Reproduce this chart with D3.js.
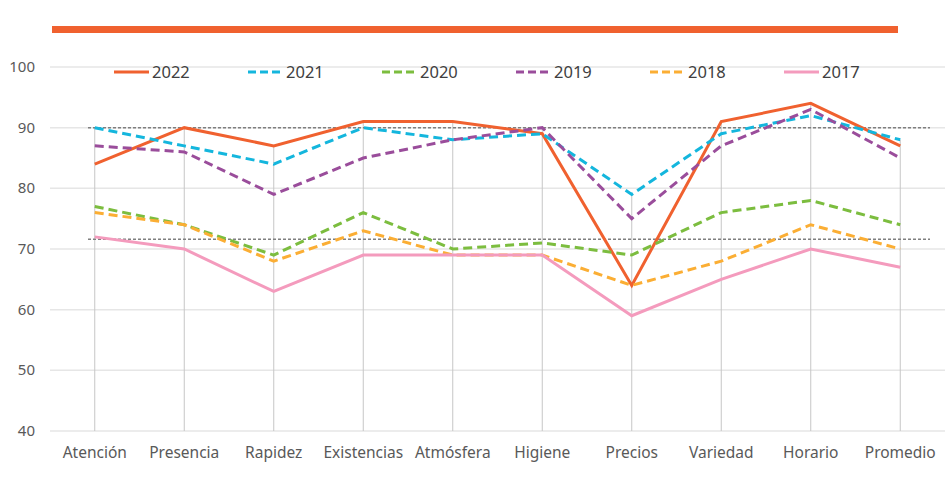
<!DOCTYPE html>
<html>
<head>
<meta charset="utf-8">
<script src="https://cdn.jsdelivr.net/npm/d3@7"></script>
<style>
  body { margin: 0; background: #fff; }
  text { font-family: "Noto Sans", "DejaVu Sans", sans-serif; fill: #595959; }
</style>
</head>
<body>
<div id="chart"></div>
<script>
// categories and series
const categories = ["Atención", "Presencia", "Rapidez", "Existencias", "Atmósfera", "Higiene", "Precios", "Variedad", "Horario", "Promedio"];
const years = ["2022", "2021", "2020", "2019", "2018", "2017"];
const v2022 = [84, 90, 87, 91, 91, 89, 64, 91, 94, 87];
const v2021 = [90, 87, 84, 90, 88, 89, 79, 89, 92, 88];
const v2020 = [77, 74, 69, 76, 70, 71, 69, 76, 78, 74];
const v2019 = [87, 86, 79, 85, 88, 90, 75, 87, 93, 85];
const v2018 = [76, 74, 68, 73, 69, 69, 64, 68, 74, 70];
const v2017 = [72, 70, 63, 69, 69, 69, 59, 65, 70, 67];
const yTicks = [40, 50, 60, 70, 80, 90, 100];
const refLines = [90, 71.6];

const colors = ["#f0612f", "#14b6dd", "#7cbd3f", "#9a4d9b", "#fbae34", "#f49bbd"];
const dashed = [false, true, true, true, true, false];
const seriesValues = [v2022, v2021, v2020, v2019, v2018, v2017];

const width = 950, height = 478;
const svg = d3.select("#chart").append("svg")
  .attr("width", width)
  .attr("height", height);

const x = d3.scaleBand().domain(categories).range([50, 945]);
const y = d3.scaleLinear().domain([40, 100]).range([431, 67]);
const cx = c => x(c) + x.bandwidth() / 2;

// orange bar across the top
svg.append("rect")
  .attr("x", 52).attr("y", 26)
  .attr("width", 846).attr("height", 7)
  .attr("fill", "#f0612f");

// horizontal gridlines
svg.append("g").selectAll("line")
  .data(yTicks)
  .enter().append("line")
  .attr("x1", 50).attr("x2", 945)
  .attr("y1", d => y(d)).attr("y2", d => y(d))
  .attr("stroke", "#e6e6e6")
  .attr("stroke-width", 1.5);

// y labels
svg.append("g").selectAll("text")
  .data(yTicks)
  .enter().append("text")
  .attr("x", 35)
  .attr("y", d => y(d) + 5)
  .attr("text-anchor", "end")
  .style("font-size", "15px")
  .text(d => d);

// drop lines from the highest value down to the axis
svg.append("g").selectAll("line")
  .data(categories)
  .enter().append("line")
  .attr("x1", d => cx(d)).attr("x2", d => cx(d))
  .attr("y1", (d, i) => y(d3.max(seriesValues, s => s[i])))
  .attr("y2", y(40))
  .attr("stroke", "#c6c6c6")
  .attr("stroke-width", 1);

// dotted reference lines
svg.append("g").selectAll("line")
  .data(refLines)
  .enter().append("line")
  .attr("x1", 88).attr("x2", 930)
  .attr("y1", d => y(d)).attr("y2", d => y(d))
  .attr("stroke", "#7f7f7f")
  .attr("stroke-width", 1.5)
  .attr("stroke-dasharray", "3,2");

// x labels
svg.append("g").selectAll("text")
  .data(categories)
  .enter().append("text")
  .attr("x", d => cx(d))
  .attr("y", 458)
  .attr("text-anchor", "middle")
  .style("font-size", "15.5px")
  .text(d => d);

// series lines
const line = d3.line()
  .x((d, i) => cx(categories[i]))
  .y(d => y(d));

svg.append("g").selectAll("path")
  .data(seriesValues)
  .enter().append("path")
  .attr("d", d => line(d))
  .attr("fill", "none")
  .attr("stroke", (d, i) => colors[i])
  .attr("stroke-width", 3)
  .attr("stroke-dasharray", (d, i) => dashed[i] ? "9,5" : null);

// legend
const legend = svg.append("g").selectAll("g")
  .data(years)
  .enter().append("g")
  .attr("transform", (d, i) => "translate(" + (114 + i * 134) + ",72)");

legend.append("line")
  .attr("x1", 0).attr("x2", 35)
  .attr("stroke", (d, i) => colors[i])
  .attr("stroke-width", 3)
  .attr("stroke-dasharray", (d, i) => dashed[i] ? "8,4" : null);

legend.append("text")
  .attr("x", 38)
  .attr("y", 6)
  .style("font-size", "16.5px")
  .style("fill", "#404040")
  .text(d => d);
</script>
</body>
</html>
